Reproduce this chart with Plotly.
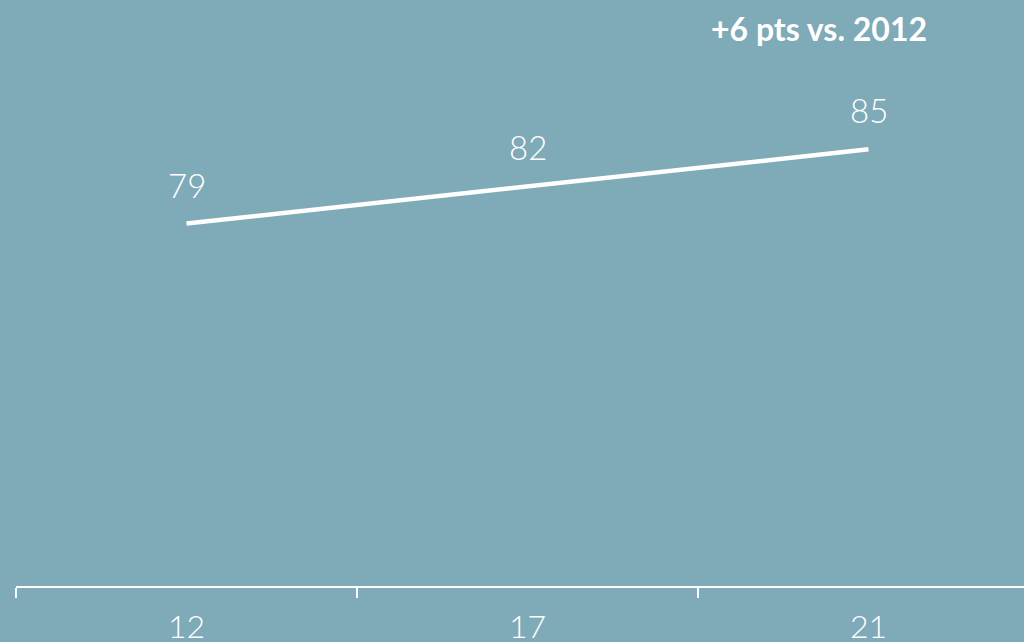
import plotly.graph_objects as go

years = ["12", "17", "21"]
values = [79, 82, 85]
headline = "+6 pts vs. 2012"

BG = "#7FAAB8"
FONT = "Lato"

fig = go.Figure()
fig.add_trace(go.Scatter(
    x=years, y=values, mode="lines",
    line=dict(color="white", width=4.5),
    hoverinfo="skip", showlegend=False,
))

for i, yv in enumerate(values):
    fig.add_annotation(
        x=i, y=yv, text=str(yv), showarrow=False,
        yshift=39, font=dict(family=FONT, size=33, color="white", weight=300),
    )

fig.add_annotation(
    xref="paper", yref="paper", x=0.906, y=1 - 28 / 586, xanchor="right", yanchor="middle",
    text=f"<b>{headline}</b>", showarrow=False,
    font=dict(family=FONT, size=32, color="white"),
)

fig.update_layout(
    width=1024, height=642,
    margin=dict(l=16, r=0, t=0, b=56, autoexpand=False),
    paper_bgcolor=BG, plot_bgcolor=BG,
    xaxis=dict(
        type="category", range=[-0.5, -0.5 + 1008 / 341], automargin=False,
        tickson="boundaries", ticks="outside", ticklen=10, tickwidth=1.5,
        tickcolor="white", showline=True, linecolor="white", linewidth=2,
        showgrid=False, zeroline=False, ticklabelstandoff=12,
        tickfont=dict(family=FONT, size=32, color="white", weight=300),
    ),
    yaxis=dict(
        range=[49.7, 97.07], visible=False, showgrid=False, zeroline=False,
        automargin=False,
    ),
)

fig.write_html("out.html")
